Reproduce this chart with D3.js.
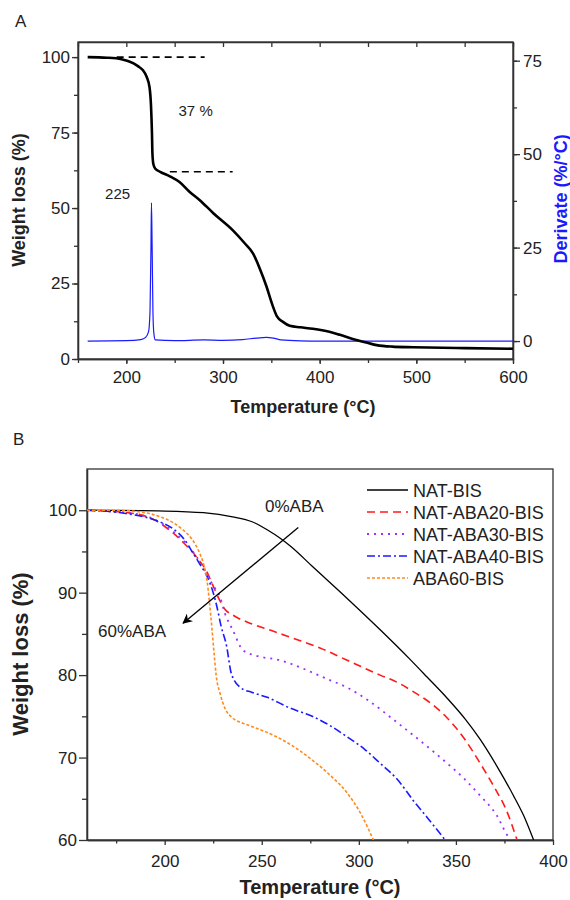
<!DOCTYPE html>
<html>
<head>
<meta charset="utf-8">
<script src="https://cdn.jsdelivr.net/npm/d3@7"></script>
<style>
  body { margin: 0; background: #fff; }
  text { font-family: "Liberation Sans", Arial, sans-serif; fill: #222; }
  .axis path, .axis line { stroke: #333; stroke-width: 1.3; }
  .axis text { font-size: 17px; fill: #222; }
</style>
</head>
<body>
<div id="chart"></div>
<script>
// ---- Panel A data: TGA weight loss and derivative ----
var tgaTemp   = [160, 180, 195, 207, 212, 217, 221, 224, 225.5, 226.5, 227, 228, 230, 235, 245, 255, 265, 276, 290, 310, 322, 331, 338, 345, 351, 356, 362, 369, 380, 393, 410, 421, 438, 450, 459, 475, 497, 550, 600];
var tgaWeight = [100, 99.8, 99.3, 98, 97, 95.7, 93.5, 90, 84, 75, 68, 64.5, 63, 62, 60.5, 58.6, 55.5, 52.6, 48.3, 42.7, 38.5, 35, 30, 24, 18, 14, 12.3, 11, 10.5, 10, 9, 8, 6.3, 5.3, 4.6, 4.1, 3.9, 3.6, 3.4];

var derivTemp  = [160, 200, 215, 220, 223, 224.5, 225.5, 226, 226.7, 227.5, 228.5, 230, 250, 280, 300, 320, 335, 345, 352, 360, 380, 400, 600];
var derivValue = [0, 0.1, 0.4, 1, 2.5, 8, 25, 37, 25, 8, 2, 0.3, 0.1, 0.3, 0.2, 0.4, 0.8, 1.0, 0.8, 0.3, 0.05, 0, 0];

// dashed guides: [tStart, tEnd, weight]
var guideLines = [[190, 281, 100], [245, 310, 62]];
var annotA = [{ t: 254, w: 80.5, label: "37 %" }, { t: 178, w: 53, label: "225" }];

// ---- Panel B data ----
var seriesNames = ["NAT-BIS", "NAT-ABA20-BIS", "NAT-ABA30-BIS", "NAT-ABA40-BIS", "ABA60-BIS"];
var seriesColors = ["#000000", "#ff1a1a", "#9a30ff", "#1a1aff", "#ff8a1f"];
var seriesDash = ["", "8,5", "2,5", "8,3,2,3", "3,2"];
var seriesWidth = [1.3, 1.6, 1.8, 1.6, 1.6];

var natTemp   = [160, 200, 220, 235, 245, 253, 259.5, 265, 276, 294, 311, 326, 335, 345.5, 355, 362.5, 371, 379.6, 385, 390];
var natWeight = [100, 99.9, 99.7, 99.2, 98.6, 97.6, 96.6, 95.6, 93.2, 89.3, 85.5, 82, 79.8, 77.2, 74.6, 72.2, 69, 65.4, 62.9, 60];

var aba20Temp   = [160, 184, 195, 204, 210, 216.5, 222, 225, 228.5, 231, 235, 245, 255, 264.6, 280, 294, 311, 320, 328, 337, 345.5, 354, 362.5, 370, 376, 381.5];
var aba20Weight = [100, 99.6, 98.8, 97.3, 96, 94.3, 92.4, 90.8, 89, 88, 87.3, 86.2, 85.4, 84.6, 83.3, 81.8, 80, 79.1, 78, 76.6, 74.8, 72.4, 69.3, 66.3, 63.6, 60];

var aba30Temp   = [160, 184, 204, 216, 220, 223.4, 226, 228.5, 231, 235, 240.4, 248, 259.5, 264.6, 285, 294, 305, 320, 337, 345, 354, 362, 371, 377, 378.5];
var aba30Weight = [100, 99.6, 97.5, 94.5, 93, 91.5, 90.5, 89.5, 87.5, 85.5, 83, 82.3, 81.8, 81.4, 79.4, 78.5, 76.9, 74.2, 71, 69.4, 67.5, 65.5, 63, 60.4, 60];

var aba40Temp   = [160, 180, 195, 204, 210, 214.6, 218, 222, 225, 227, 229, 232, 234, 236, 239, 245, 252.8, 264.6, 276, 285, 294, 303, 311, 320, 328, 336, 344.5];
var aba40Weight = [100, 99.6, 98.8, 97.8, 96.5, 94.8, 93.5, 91.9, 90, 88.2, 86, 83.4, 80.5, 79.3, 78.5, 77.9, 77.3, 76, 75, 73.9, 72.5, 71, 69.3, 67.3, 64.8, 62.5, 60];

var aba60Temp   = [160, 175, 190, 197.6, 205, 209.5, 214, 218, 220, 221.8, 223, 224.4, 225.5, 226.5, 228.5, 231, 235, 240, 245.6, 256, 264.6, 276, 285, 294, 301, 307.5];
var aba60Weight = [100, 100, 99.7, 99.2, 98.4, 97.6, 96.5, 94.8, 93.5, 91.5, 89, 85.5, 82.5, 80, 77.8, 76, 74.8, 74.2, 73.7, 72.7, 71.6, 69.7, 67.9, 65.7, 63.2, 60];

var seriesTemp = [natTemp, aba20Temp, aba30Temp, aba40Temp, aba60Temp];
var seriesWeight = [natWeight, aba20Weight, aba30Weight, aba40Weight, aba60Weight];

// arrow from 0%ABA to 60%ABA: [t, w]
var arrowStart = [268.8, 97.9];
var arrowEnd = [209.5, 86.3];
var annotB = [{ t: 251.7, w: 99.75, label: "0%ABA" }, { t: 165.7, w: 84.6, label: "60%ABA" }];

// ---- SVG ----
var svg = d3.select("#chart").append("svg")
            .attr("width", 570)
            .attr("height", 900);

function zip(a, b) { return a.map(function(v, i) { return [v, b[i]]; }); }

// ===================== Panel A =====================
var xA = d3.scaleLinear().domain([150, 600]).range([78, 513]);
var yA = d3.scaleLinear().domain([0, 105]).range([359, 42]);
var yD = d3.scaleLinear().domain([-4.8, 80]).range([359, 42]);

svg.append("text").attr("x", 15).attr("y", 27).style("font-size", "17px").text("A");

// minor ticks
svg.append("g").attr("class", "axis").attr("transform", "translate(0,359)")
   .call(d3.axisBottom(xA).tickValues(d3.range(150, 601, 50)).tickSize(4).tickSizeOuter(0).tickFormat(""));
svg.append("g").attr("class", "axis").attr("transform", "translate(0,359)")
   .call(d3.axisBottom(xA).tickValues(d3.range(200, 601, 100)).tickSize(5).tickSizeOuter(0).tickPadding(7));
svg.append("g").attr("class", "axis").attr("transform", "translate(0,42)")
   .call(d3.axisTop(xA).tickValues(d3.range(150, 601, 50)).tickSize(-5).tickSizeOuter(0).tickFormat(""));
svg.append("g").attr("class", "axis").attr("transform", "translate(78,0)")
   .call(d3.axisLeft(yA).tickValues(d3.range(0, 101, 12.5)).tickSize(4).tickSizeOuter(0).tickFormat(""));
svg.append("g").attr("class", "axis").attr("transform", "translate(78,0)")
   .call(d3.axisLeft(yA).tickValues(d3.range(0, 101, 25)).tickSize(6).tickSizeOuter(0).tickPadding(2));
svg.append("g").attr("class", "axis").attr("transform", "translate(513,0)")
   .call(d3.axisRight(yD).tickValues(d3.range(0, 76, 12.5)).tickSize(4).tickSizeOuter(0).tickFormat(""));
svg.append("g").attr("class", "axis").attr("transform", "translate(513,0)")
   .call(d3.axisRight(yD).tickValues(d3.range(0, 76, 25)).tickSize(7).tickSizeOuter(0).tickPadding(3));

svg.append("rect").attr("x", 78).attr("y", 42).attr("width", 435).attr("height", 317)
   .attr("fill", "none").attr("stroke", "#333").attr("stroke-width", 1.3);

// dashed guides
svg.selectAll(".guide").data(guideLines).enter().append("line")
   .attr("x1", function(d) { return xA(d[0]); })
   .attr("x2", function(d) { return xA(d[1]); })
   .attr("y1", function(d) { return yA(d[2]); })
   .attr("y2", function(d) { return yA(d[2]); })
   .attr("stroke", "#000").attr("stroke-width", 1.6).attr("stroke-dasharray", "7,5");

var lineA = d3.line().x(function(d) { return xA(d[0]); }).y(function(d) { return yA(d[1]); }).curve(d3.curveMonotoneX);
var lineD = d3.line().x(function(d) { return xA(d[0]); }).y(function(d) { return yD(d[1]); }).curve(d3.curveMonotoneX);

svg.append("path").datum(zip(derivTemp, derivValue)).attr("d", lineD)
   .attr("fill", "none").attr("stroke", "#1a1aff").attr("stroke-width", 1.2);
svg.append("path").datum(zip(tgaTemp, tgaWeight)).attr("d", lineA)
   .attr("fill", "none").attr("stroke", "#000").attr("stroke-width", 2.6);

svg.selectAll(".annA").data(annotA).enter().append("text")
   .attr("x", function(d) { return xA(d.t); })
   .attr("y", function(d) { return yA(d.w); })
   .style("font-size", "15px")
   .text(function(d) { return d.label; });

svg.append("text").attr("x", 303).attr("y", 413).attr("text-anchor", "middle")
   .style("font-size", "18px").style("font-weight", "bold").text("Temperature (°C)");
svg.append("text").attr("transform", "translate(25,200) rotate(-90)").attr("text-anchor", "middle")
   .style("font-size", "18px").style("font-weight", "bold").text("Weight loss (%)");
svg.append("text").attr("transform", "translate(567,199) rotate(-90)").attr("text-anchor", "middle")
   .style("font-size", "18px").style("font-weight", "bold").style("fill", "#1a1aff").text("Derivate (%/°C)");

// ===================== Panel B =====================
var xB = d3.scaleLinear().domain([160, 400]).range([87, 553]);
var yB = d3.scaleLinear().domain([60, 105]).range([840, 469]);

svg.append("text").attr("x", 13).attr("y", 445).style("font-size", "17px").text("B");

svg.append("g").attr("class", "axis").attr("transform", "translate(0,840)")
   .call(d3.axisBottom(xB).tickValues(d3.range(175, 400, 50)).tickSize(3.5).tickSizeOuter(0).tickFormat(""));
svg.append("g").attr("class", "axis").attr("transform", "translate(0,840)")
   .call(d3.axisBottom(xB).tickValues(d3.range(200, 401, 50)).tickSize(5).tickSizeOuter(0).tickPadding(10));
svg.append("g").attr("class", "axis").attr("transform", "translate(87,0)")
   .call(d3.axisLeft(yB).tickValues(d3.range(65, 101, 10)).tickSize(5).tickSizeOuter(0).tickFormat(""));
svg.append("g").attr("class", "axis").attr("transform", "translate(87,0)")
   .call(d3.axisLeft(yB).tickValues(d3.range(60, 101, 10)).tickSize(8).tickSizeOuter(0).tickPadding(2));

svg.append("rect").attr("x", 87).attr("y", 469).attr("width", 466).attr("height", 371)
   .attr("fill", "none").attr("stroke", "#333").attr("stroke-width", 1.3);

svg.append("clipPath").attr("id", "clipB").append("rect")
   .attr("x", 87).attr("y", 469).attr("width", 466).attr("height", 371);

var lineB = d3.line().x(function(d) { return xB(d[0]); }).y(function(d) { return yB(d[1]); }).curve(d3.curveMonotoneX);

var order = [0, 1, 2, 3, 4];
svg.append("g").attr("clip-path", "url(#clipB)")
   .selectAll("path").data(order).enter().append("path")
   .attr("d", function(i) { return lineB(zip(seriesTemp[i], seriesWeight[i])); })
   .attr("fill", "none")
   .attr("stroke", function(i) { return seriesColors[i]; })
   .attr("stroke-width", function(i) { return seriesWidth[i]; })
   .attr("stroke-dasharray", function(i) { return seriesDash[i]; });

// arrow
svg.append("defs").append("marker").attr("id", "arrowHead")
   .attr("viewBox", "0 0 10 10").attr("refX", 9).attr("refY", 5)
   .attr("markerWidth", 10).attr("markerHeight", 10).attr("markerUnits", "userSpaceOnUse")
   .attr("orient", "auto")
   .append("path").attr("d", "M0,0 L10,5 L0,10 L3,5 Z").attr("fill", "#000");
svg.append("line")
   .attr("x1", xB(arrowStart[0])).attr("y1", yB(arrowStart[1]))
   .attr("x2", xB(arrowEnd[0])).attr("y2", yB(arrowEnd[1]))
   .attr("stroke", "#000").attr("stroke-width", 1.3).attr("marker-end", "url(#arrowHead)");

svg.selectAll(".annB").data(annotB).enter().append("text")
   .attr("x", function(d) { return xB(d.t); })
   .attr("y", function(d) { return yB(d.w); })
   .style("font-size", "17px")
   .text(function(d) { return d.label; });

// legend
var legend = svg.append("g").attr("transform", "translate(367,490)");
var rows = legend.selectAll("g").data(order).enter().append("g")
   .attr("transform", function(i) { return "translate(0," + (i * 22) + ")"; });
rows.append("line").attr("x1", 0).attr("x2", 41).attr("y1", 0).attr("y2", 0)
   .attr("stroke", function(i) { return seriesColors[i]; })
   .attr("stroke-width", function(i) { return seriesWidth[i]; })
   .attr("stroke-dasharray", function(i) { return seriesDash[i]; });
rows.append("text").attr("x", 46).attr("y", 6.5).style("font-size", "18px")
   .text(function(i) { return seriesNames[i]; });

svg.append("text").attr("x", 320).attr("y", 894).attr("text-anchor", "middle")
   .style("font-size", "20px").style("font-weight", "bold").text("Temperature (°C)");
svg.append("text").attr("transform", "translate(28,654) rotate(-90)").attr("text-anchor", "middle")
   .style("font-size", "22px").style("font-weight", "bold").text("Weight loss (%)");
</script>
</body>
</html>
